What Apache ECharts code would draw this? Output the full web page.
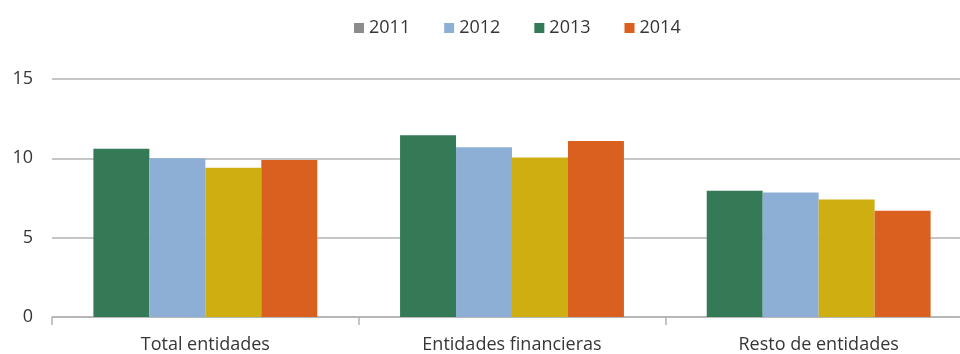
<!DOCTYPE html>
<html>
<head>
<meta charset="utf-8">
<script src="https://cdn.jsdelivr.net/npm/echarts@6/dist/echarts.min.js"></script>
<style>
  html, body { margin: 0; padding: 0; background: #ffffff; overflow: hidden; }
  /* the plot runs slightly past the right edge of the view */
  #chart { width: 972px; height: 354px; }
</style>
</head>
<body>
<div id="chart"></div>
<script>
// Categories and yearly values
const categories = ['Total entidades', 'Entidades financieras', 'Resto de entidades'];
const years = ['2011', '2012', '2013', '2014'];
const values2011 = [10.6, 11.45, 7.95];
const values2012 = [10.0, 10.7, 7.85];
const values2013 = [9.4, 10.05, 7.4];
const values2014 = [9.9, 11.1, 6.7];
const yTicks = [0, 5, 10, 15];

// Bar fills and legend swatches
const barColors = ['#347A57', '#8DAFD5', '#CFAE12', '#D9601E'];
const legendColors = ['#8C8C8C', '#8DAFD5', '#347A57', '#D9601E'];

const seriesValues = [values2011, values2012, values2013, values2014];
const fontFamily = '"Open Sans", "Noto Sans", sans-serif';
const textColor = '#363636';
const lineColor = '#B3B3B3';

const chart = echarts.init(document.getElementById('chart'), null, { renderer: 'canvas' });

chart.setOption({
  animation: false,
  textStyle: { fontFamily: fontFamily },
  legend: {
    top: 14,
    left: 349,
    itemWidth: 10,
    itemHeight: 10,
    itemGap: 34,
    icon: 'rect',
    textStyle: { fontSize: 18, color: textColor, fontFamily: fontFamily, padding: [0, 0, 0, 0] },
    data: years.map((y, i) => ({ name: y, itemStyle: { color: legendColors[i] } }))
  },
  grid: {
    left: 52,
    right: 0,
    top: 79,
    bottom: 37,
    containLabel: false
  },
  xAxis: {
    type: 'category',
    data: categories,
    boundaryGap: true,
    axisLine: { show: true, lineStyle: { color: lineColor, width: 1.5 } },
    axisTick: { show: true, length: 8, lineStyle: { color: lineColor, width: 1.5 } },
    axisLabel: { fontSize: 18, color: textColor, margin: 19, fontFamily: fontFamily }
  },
  yAxis: {
    type: 'value',
    min: yTicks[0],
    max: yTicks[yTicks.length - 1],
    interval: 5,
    axisLine: { show: false },
    axisTick: { show: false },
    splitLine: { show: true, lineStyle: { color: lineColor, width: 1.5 } },
    axisLabel: { fontSize: 18, color: textColor, margin: 19, fontFamily: fontFamily }
  },
  series: years.map((y, i) => ({
    name: y,
    type: 'bar',
    data: seriesValues[i],
    barGap: '0%',
    barCategoryGap: '27%',
    itemStyle: { color: barColors[i] },
    z: 3
  }))
});
</script>
</body>
</html>
